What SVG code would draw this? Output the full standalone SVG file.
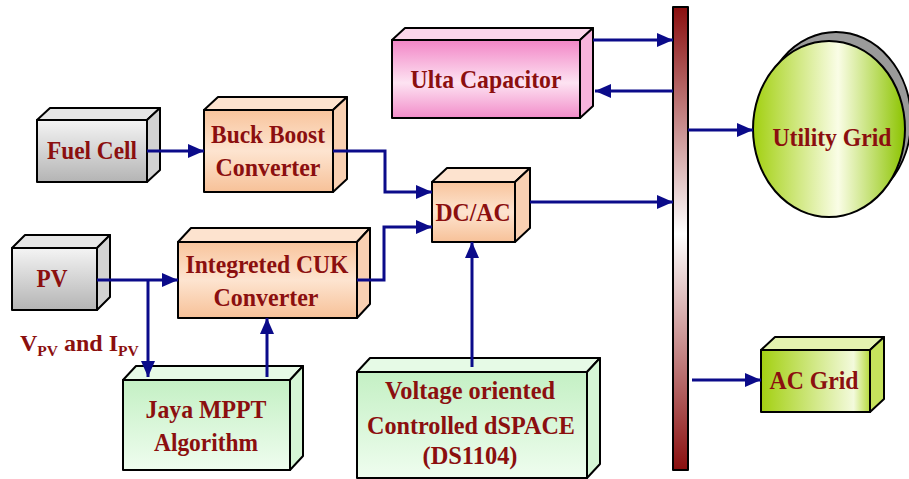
<svg xmlns="http://www.w3.org/2000/svg" width="909" height="479" viewBox="0 0 909 479">
<defs>
<linearGradient id="gGray" x1="0" y1="0" x2="0" y2="1"><stop offset="0" stop-color="#f4f4f4"/><stop offset="1" stop-color="#b4b4b4"/></linearGradient>
<linearGradient id="gOrange" x1="0" y1="0" x2="0" y2="1"><stop offset="0" stop-color="#f8c49c"/><stop offset="0.5" stop-color="#fde4d0"/><stop offset="1" stop-color="#f7c198"/></linearGradient>
<linearGradient id="gPink" x1="0" y1="0" x2="0" y2="1"><stop offset="0" stop-color="#f285c6"/><stop offset="0.55" stop-color="#fde3f2"/><stop offset="1" stop-color="#f28cc9"/></linearGradient>
<linearGradient id="gGreen" x1="0" y1="0" x2="0" y2="1"><stop offset="0" stop-color="#c4f0c4"/><stop offset="1" stop-color="#effdef"/></linearGradient>
<linearGradient id="gLime" x1="0" y1="0" x2="1" y2="0"><stop offset="0" stop-color="#a3d011"/><stop offset="0.85" stop-color="#f3fadc"/><stop offset="1" stop-color="#b6da3c"/></linearGradient>
<linearGradient id="gEll" x1="0" y1="0" x2="1" y2="0"><stop offset="0" stop-color="#a2d010"/><stop offset="0.56" stop-color="#fafde6"/><stop offset="1" stop-color="#8cc400"/></linearGradient>
<linearGradient id="gBus" x1="0" y1="0" x2="0" y2="1"><stop offset="0" stop-color="#8a0f0f"/><stop offset="0.49" stop-color="#ffffff"/><stop offset="1" stop-color="#8a0f0f"/></linearGradient>
<marker id="ah" markerUnits="userSpaceOnUse" markerWidth="18" markerHeight="14" refX="16" refY="7" orient="auto"><path d="M0,0 L16,7 L0,14 Z" fill="#0b0b8a"/></marker>
<style>
.f{stroke:#000;stroke-width:2;stroke-linejoin:round}
.t{font-family:"Liberation Serif","Times New Roman",serif;font-weight:bold;font-size:26px;fill:#8b0f0f;text-anchor:middle}
.c{fill:none;stroke:#0b0b8a;stroke-width:3}
.a{marker-end:url(#ah)}
.grayTop{fill:#e6e6e6}.graySide{fill:#d2d2d2}
.orTop{fill:#fde3cf}.orSide{fill:#f9d0b2}
.pkTop{fill:#fbd6ea}.pkSide{fill:#f7b4dc}
.grTop{fill:#e6fae6}.grSide{fill:#d6f6d6}
.lmTop{fill:#e4f3b0}.lmSide{fill:#c6e35c}
</style>
</defs>
<rect width="909" height="479" fill="#ffffff"/>

<g id="bus"><rect x="673" y="7" width="15" height="463" fill="url(#gBus)" class="f"/></g>

<g id="fuel-cell">
<path class="f grayTop" d="M37,120 L50,108 L160,108 L147,120 Z"/>
<path class="f graySide" d="M147,120 L160,108 L160,170 L147,182 Z"/>
<rect class="f" x="37" y="120" width="110" height="62" fill="url(#gGray)"/>
<text class="t" x="92" y="159" textLength="90" lengthAdjust="spacingAndGlyphs">Fuel Cell</text>
</g>

<g id="buck-boost">
<path class="f orTop" d="M204,110 L218,97 L347,97 L333,110 Z"/>
<path class="f orSide" d="M333,110 L347,97 L347,179 L333,192 Z"/>
<rect class="f" x="204" y="110" width="129" height="82" fill="url(#gOrange)"/>
<text class="t" x="268" y="143" textLength="114" lengthAdjust="spacingAndGlyphs">Buck Boost</text>
<text class="t" x="268" y="176" textLength="105" lengthAdjust="spacingAndGlyphs">Converter</text>
</g>

<g id="pv">
<path class="f grayTop" d="M12,248 L25,235 L110,235 L97,248 Z"/>
<path class="f graySide" d="M97,248 L110,235 L110,297 L97,310 Z"/>
<rect class="f" x="12" y="248" width="85" height="62" fill="url(#gGray)"/>
<text class="t" x="52" y="287" textLength="31" lengthAdjust="spacingAndGlyphs">PV</text>
</g>

<g id="cuk">
<path class="f orTop" d="M178,242 L191,228 L370,228 L357,242 Z"/>
<path class="f orSide" d="M357,242 L370,228 L370,304 L357,318 Z"/>
<rect class="f" x="178" y="242" width="179" height="76" fill="url(#gOrange)"/>
<text class="t" x="267" y="273" textLength="163" lengthAdjust="spacingAndGlyphs">Integreted CUK</text>
<text class="t" x="266" y="306" textLength="105" lengthAdjust="spacingAndGlyphs">Converter</text>
</g>

<g id="jaya">
<path class="f grTop" d="M123,380 L136,366 L303,366 L290,380 Z"/>
<path class="f grSide" d="M290,380 L303,366 L303,456 L290,470 Z"/>
<rect class="f" x="123" y="380" width="167" height="90" fill="url(#gGreen)"/>
<text class="t" x="206" y="418" textLength="121" lengthAdjust="spacingAndGlyphs">Jaya MPPT</text>
<text class="t" x="206" y="451" textLength="104" lengthAdjust="spacingAndGlyphs">Algorithm</text>
</g>

<g id="ulta">
<path class="f pkTop" d="M392,40 L405,28 L593,28 L580,40 Z"/>
<path class="f pkSide" d="M580,40 L593,28 L593,106 L580,118 Z"/>
<rect class="f" x="392" y="40" width="188" height="78" fill="url(#gPink)"/>
<text class="t" x="486" y="88" textLength="151" lengthAdjust="spacingAndGlyphs">Ulta Capacitor</text>
</g>

<g id="dcac">
<path class="f orTop" d="M432,182 L447,168 L530,168 L515,182 Z"/>
<path class="f orSide" d="M515,182 L530,168 L530,228 L515,242 Z"/>
<rect class="f" x="432" y="182" width="83" height="60" fill="url(#gOrange)"/>
<text class="t" x="473" y="221" textLength="75" lengthAdjust="spacingAndGlyphs">DC/AC</text>
</g>

<g id="voc">
<path class="f grTop" d="M357,372 L370,358 L600,358 L587,372 Z"/>
<path class="f grSide" d="M587,372 L600,358 L600,464 L587,478 Z"/>
<rect class="f" x="357" y="372" width="230" height="106" fill="url(#gGreen)"/>
<text class="t" x="470" y="399" textLength="170" lengthAdjust="spacingAndGlyphs">Voltage oriented</text>
<text class="t" x="471" y="434" textLength="208" lengthAdjust="spacingAndGlyphs">Controlled dSPACE</text>
<text class="t" x="470" y="464" textLength="95" lengthAdjust="spacingAndGlyphs">(DS1104)</text>
</g>

<g id="utility">
<ellipse cx="836" cy="120" rx="75" ry="88" fill="#9a9a9a" class="f"/>
<ellipse cx="829" cy="129" rx="76" ry="88" fill="url(#gEll)" class="f"/>
<text class="t" x="832" y="146" textLength="119" lengthAdjust="spacingAndGlyphs">Utility Grid</text>
</g>

<g id="ac-grid">
<path class="f lmTop" d="M761,350 L775,337 L884,337 L870,350 Z"/>
<path class="f lmSide" d="M870,350 L884,337 L884,399 L870,412 Z"/>
<rect class="f" x="761" y="350" width="109" height="62" fill="url(#gLime)"/>
<text class="t" x="814" y="389" textLength="89" lengthAdjust="spacingAndGlyphs">AC Grid</text>
</g>

<g id="vpv-label">
<text x="20" y="351" style="font-family:'Liberation Serif','Times New Roman',serif;font-weight:bold;font-size:24px;fill:#8b0f0f">V<tspan font-size="15.5" dy="5">PV</tspan><tspan dy="-5"> and I</tspan><tspan font-size="15.5" dy="5">PV</tspan></text>
</g>

<g id="connectors">
<path class="c a" d="M147,151 H204"/>
<path class="c a" d="M333,151 H385 V192 H432"/>
<path class="c a" d="M357,280 H384 V227 H432"/>
<path class="c a" d="M97,280 H178"/>
<path class="c a" d="M148,280 V377"/>
<path class="c a" d="M267,377 V318"/>
<path class="c a" d="M472,367 V242"/>
<path class="c a" d="M593,40 H673"/>
<path class="c a" d="M673,91 H595"/>
<path class="c a" d="M530,202 H673"/>
<path class="c a" d="M688,130 H753"/>
<path class="c a" d="M692,380 H761"/>
</g>
</svg>
